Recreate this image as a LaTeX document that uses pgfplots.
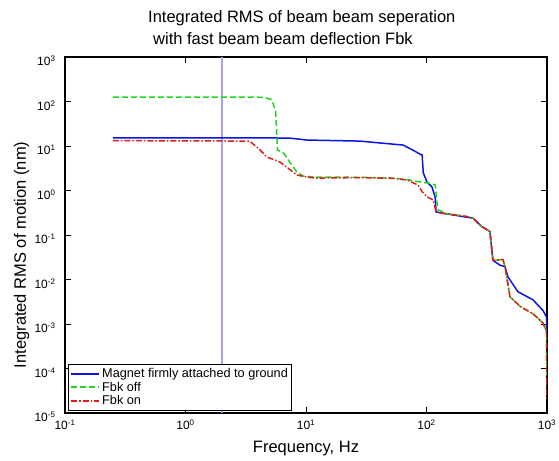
\documentclass[border=0pt]{standalone}
\usepackage{fontspec}
\setmainfont{Liberation Sans}
\usepackage{pgfplots}
\pgfplotsset{compat=1.18}
\usetikzlibrary{calc}

\definecolor{cblue}{RGB}{10,20,230}
\definecolor{cgreen}{RGB}{30,215,30}
\definecolor{cred}{RGB}{230,25,25}
\definecolor{cvline}{RGB}{165,165,235}

\begin{document}
\begin{tikzpicture}
\begin{loglogaxis}[
    name=ax,
    width=482pt, height=356pt, scale only axis,
    xmin=0.1, xmax=1000, ymin=1e-5, ymax=1e3,
    log basis x=10, log basis y=10,
    xtick={0.1,1,10,100,1000},
    ytick={1e-5,1e-4,1e-3,1e-2,1e-1,1,10,100,1000},
    xticklabel={10\textsuperscript{\pgfmathparse{int(round(\tick))}\pgfmathresult}},
    yticklabel={10\textsuperscript{\pgfmathparse{int(round(\tick))}\pgfmathresult}},
    tick label style={font=\fontsize{12}{14}\selectfont},
    xticklabel style={yshift=-3pt},
    yticklabel style={xshift=-6pt, yshift=-4pt},
    axis line style={line width=1.2pt},
    every tick/.style={black, line width=0.7pt},
    major tick length=6pt, minor tick length=3pt,
    xlabel={Frequency, Hz},
    ylabel={Integrated RMS of motion (nm)},
    label style={font=\fontsize{16.5}{19}\selectfont},
    xlabel style={at={(axis description cs:0.5,0)}, anchor=base, yshift=-40pt},
    ylabel style={at={(axis description cs:0,0.444)}, anchor=base, yshift=39pt},
    legend style={at={(axis description cs:0.006,0.006)}, anchor=south west,
        font=\fontsize{12.7}{15}\selectfont,
        fill=white, inner sep=2pt, row sep=-1pt},
    every axis legend/.append style={draw=black, line width=1pt},
    legend cell align=left,
    legend image code/.code={\draw[#1, line width=1.8pt] (0pt,0pt) -- (28pt,0pt);},
]
% vertical marker line at 2 Hz
\addplot[draw=cvline, line width=1.5pt, forget plot] coordinates {(2,1e-5) (2,1e3)};

\addplot[draw=cblue, line width=1.5pt] coordinates {
(0.25,15.3) (2,15.3) (5,15.2) (7.4,15) (10.2,13.6) (28,12.9) (41,11.7)
(64,10.5) (77,8.1) (88,6.6) (92,6.3) (94,2.5) (101,1.55) (111,1.2)
(118,0.71) (120,0.33) (135,0.31) (217,0.25) (243,0.24) (287,0.155)
(336,0.12) (356,0.027) (407,0.021) (448,0.0195) (474,0.0115) (574,0.0053)
(765,0.0035) (927,0.002) (990,0.00145) (1000,6e-4)
};
\addlegendentry{Magnet firmly attached to ground}

\addplot[draw=cgreen, line width=1.5pt, dash pattern=on 6pt off 3pt] coordinates {
(0.25,125) (4.0,125) (4.6,122) (5.2,110) (5.6,60) (5.8,8.1) (6.5,7)
(7.5,4) (8.4,2.6) (9.5,2.1) (12,2.0) (28,1.98) (53,1.9) (73,1.72)
(85,1.58) (107,1.45) (118,1.33) (121,0.72) (124,0.37) (148,0.30)
(217,0.26) (243,0.24) (287,0.155) (336,0.12) (356,0.027) (431,0.028)
(448,0.0195) (493,0.0041) (597,0.0025) (765,0.0017) (927,0.00105)
(990,0.0007) (1000,4e-5)
};
\addlegendentry{Fbk off}

\addplot[draw=cred, line width=1.5pt, dash pattern=on 6pt off 2pt on 1.5pt off 2pt] coordinates {
(0.25,13.2) (3.4,12.9) (4.0,9.0) (4.74,5.66) (6.08,4.37) (8.4,2.23)
(10.2,2.0) (12,1.9) (28,1.95) (53,1.88) (69,1.72) (85,1.33) (92,0.94)
(101,0.72) (114,0.61) (120,0.33) (135,0.31) (217,0.26) (243,0.24)
(287,0.155) (336,0.12) (356,0.027) (431,0.028) (448,0.0195) (493,0.0041)
(597,0.0025) (765,0.0017) (927,0.00105) (990,0.0007) (1000,2e-5)
};
\addlegendentry{Fbk on}
\end{loglogaxis}

% two-line title
\node[anchor=base west, inner sep=0pt, font=\fontsize{16.5}{19}\selectfont]
    at ($(ax.north west)+(83pt,34pt)$) {Integrated RMS of beam beam seperation};
\node[anchor=base west, inner sep=0pt, font=\fontsize{16.5}{19}\selectfont]
    at ($(ax.north west)+(88pt,12pt)$) {with fast beam beam deflection Fbk};

\pgfresetboundingbox
\path[use as bounding box] ($(ax.south west)+(-65pt,-48pt)$) rectangle ($(ax.north east)+(12pt,57pt)$);
\end{tikzpicture}
\end{document}
